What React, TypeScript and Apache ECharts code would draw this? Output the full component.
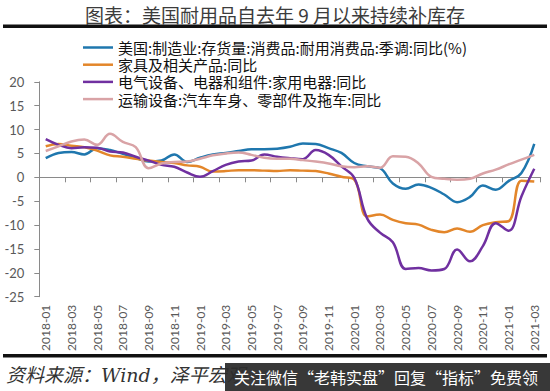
import React, { useEffect, useRef } from "react";
import * as echarts from "echarts";

const months = [
  "2018-01","2018-02","2018-03","2018-04","2018-05","2018-06","2018-07","2018-08","2018-09","2018-10","2018-11","2018-12",
  "2019-01","2019-02","2019-03","2019-04","2019-05","2019-06","2019-07","2019-08","2019-09","2019-10","2019-11","2019-12",
  "2020-01","2020-02","2020-03","2020-04","2020-05","2020-06","2020-07","2020-08","2020-09","2020-10","2020-11","2020-12",
  "2021-01","2021-02","2021-03",
];

const seriesNames = [
  "美国:制造业:存货量:消费品:耐用消费品:季调:同比(%)",
  "家具及相关产品:同比",
  "电气设备、电器和组件:家用电器:同比",
  "运输设备:汽车车身、零部件及拖车:同比",
];

const durableGoods = [4.0, 5.1, 5.3, 4.8, 6.1, 5.7, 4.9, 4.1, 3.3, 3.5, 4.8, 3.2, 4.1, 4.8, 5.1, 5.5, 5.9, 5.9, 6.0, 6.4,
  7.1, 7.0, 6.1, 5.1, 3.0, 2.3, 1.9, -1.3, -2.4, -1.5, -2.2, -3.6, -5.2, -4.1, -1.7, -2.6, -0.8, 0.9, 7.0];
const furniture = [6.5, 7.0, 6.6, 6.3, 5.6, 4.6, 4.3, 3.9, 3.5, 3.2, 3.0, 2.5, 2.2, 1.2, 1.3, 1.5, 1.5, 1.4, 1.3, 1.5,
  1.4, 1.3, 0.8, 0.1, -0.5, -8.2, -7.8, -8.9, -9.6, -9.9, -11.0, -11.5, -10.7, -11.4, -10.0, -9.4, -9.2, -0.7, -0.9];
const appliances = [8.0, 6.8, 6.1, 6.3, 6.2, 5.4, 5.2, 4.3, 3.5, 2.6, 2.2, 1.0, 0.1, 1.3, 2.6, 3.3, 3.5, 4.8, 4.3, 4.0,
  3.8, 5.7, 4.7, 2.3, -0.1, -8.6, -11.6, -13.6, -19.2, -19.0, -19.5, -19.2, -15.1, -17.6, -14.4, -9.6, -11.2, -4.0, 1.8];
const autoParts = [5.5, 6.5, 7.5, 7.9, 6.8, 9.1, 7.4, 6.3, 1.9, 2.9, 3.2, 3.3, 3.9, 4.6, 5.0, 5.2, 4.7, 4.1, 3.9, 3.9,
  3.6, 3.3, 2.9, 2.3, 2.1, 2.3, 2.0, 4.4, 4.3, 2.9, 0.1, -0.3, -0.5, -0.3, 0.8, 1.6, 2.7, 3.7, 4.7];

const colors = ["#1f77ae", "#e3862a", "#7030a0", "#d9a3a6"];

const titleText = "图表：美国耐用品自去年 9 月以来持续补库存";
const sourceText = "资料来源：Wind，泽平宏观";
const bannerText = "关注微信“老韩实盘”回复“指标”免费领";

export default function App() {
  const ref = useRef<HTMLDivElement>(null);
  useEffect(() => {
    if (!ref.current) return;
    const chart = echarts.init(ref.current, undefined, { renderer: "svg" });
    const values = [durableGoods, furniture, appliances, autoParts];
    const cjk = "'Noto Sans CJK SC', sans-serif";
    chart.setOption({
      animation: false,
      backgroundColor: "#ffffff",
      grid: { left: 39.3, right: 9.3, top: 81.8, bottom: 94.3, containLabel: false },
      legend: {
        orient: "vertical",
        left: 78,
        top: 35,
        itemWidth: 30,
        itemHeight: 2.5,
        itemGap: 2.2,
        icon: "rect",
        textStyle: { fontSize: 15, lineHeight: 15, color: "#111", fontFamily: cjk },
        data: seriesNames,
      },
      xAxis: [
        {
          type: "category",
          data: months,
          boundaryGap: true,
          position: "bottom",
          axisLine: { show: true, onZero: true, lineStyle: { color: "#8a8a8a", width: 1 } },
          axisTick: { show: true, interval: 1, length: 5, lineStyle: { color: "#8a8a8a" } },
          axisLabel: { show: false, interval: 1 },
          splitLine: { show: false },
        },
        {
          type: "category",
          data: months,
          boundaryGap: true,
          position: "bottom",
          axisLine: { show: false, onZero: false },
          axisTick: { show: false },
          axisLabel: {
            show: true,
            interval: 1,
            rotate: 90,
            margin: 8,
            fontSize: 12,
            color: "#595959",
            fontFamily: "Lato, sans-serif",
          },
          splitLine: { show: false },
        },
      ],
      yAxis: {
        type: "value",
        min: -25,
        max: 20,
        interval: 5,
        axisLine: { show: true, lineStyle: { color: "#8a8a8a", width: 1 } },
        axisTick: { show: true, length: 5, lineStyle: { color: "#8a8a8a" } },
        axisLabel: { fontSize: 13, color: "#595959", margin: 15, fontFamily: "Lato, sans-serif" },
        splitLine: { show: false },
      },
      series: seriesNames.map((name, i) => ({
        name,
        type: "line",
        xAxisIndex: 0,
        data: values[i],
        smooth: 0.4,
        symbol: "none",
        color: colors[i],
        lineStyle: { width: 2.5, color: colors[i] },
      })),
      graphic: [
        {
          type: "text",
          x: 275,
          y: 14,
          style: {
            text: titleText,
            fontSize: 19,
            fill: "#3c3c3c",
            align: "center",
            verticalAlign: "middle",
            fontFamily: cjk,
          },
        },
        { type: "rect", shape: { x: 3, y: 24.5, width: 544, height: 3.5 }, style: { fill: "#111" } },
        { type: "rect", shape: { x: 3, y: 354, width: 544, height: 3.5 }, style: { fill: "#111" } },
        {
          type: "text",
          x: 6,
          y: 375,
          style: {
            text: sourceText,
            fontSize: 19,
            fontStyle: "italic",
            fill: "#333",
            verticalAlign: "middle",
            fontFamily: "'DejaVu Serif', 'Noto Sans CJK SC', serif",
          },
        },
        { type: "rect", shape: { x: 225, y: 363, width: 325, height: 28 }, style: { fill: "rgba(45,45,45,0.95)" } },
        {
          type: "text",
          x: 234,
          y: 377,
          style: {
            text: bannerText,
            fontSize: 16,
            fill: "#ffffff",
            verticalAlign: "middle",
            fontFamily: cjk,
          },
        },
      ],
    });
    return () => chart.dispose();
  }, []);
  return (
    <div
      ref={ref}
      style={{ position: "absolute", left: 0, top: 0, width: 550, height: 391 }}
    />
  );
}
